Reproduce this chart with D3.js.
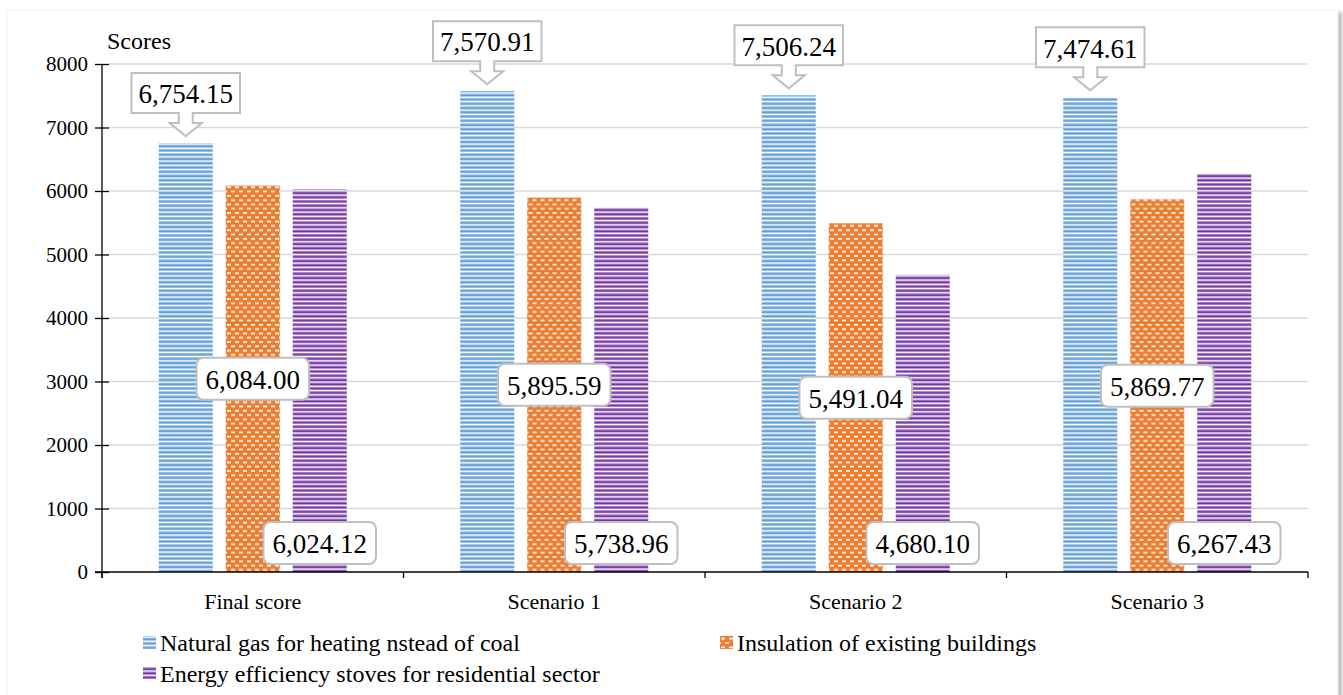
<!DOCTYPE html>
<html>
<head>
<meta charset="utf-8">
<script src="https://cdn.jsdelivr.net/npm/d3@7"></script>
</head>
<body style="margin:0;background:#fff">
<svg id="chart" width="1343" height="695" style="display:block"></svg>
<script>
// Scenario scores for the three air-quality measures
const categories = ["Final score", "Scenario 1", "Scenario 2", "Scenario 3"];
const seriesNames = [
  "Natural gas for heating nstead of coal",
  "Insulation of existing buildings",
  "Energy efficiency stoves for residential sector"
];
const naturalGas = [6754.15, 7570.91, 7506.24, 7474.61];
const insulation = [6084.00, 5895.59, 5491.04, 5869.77];
const stoves     = [6024.12, 5738.96, 4680.10, 6267.43];
const yTicks = [0, 1000, 2000, 3000, 4000, 5000, 6000, 7000, 8000];
const yTitle = "Scores";

const series = [naturalGas, insulation, stoves];
const fmt = d3.format(",.2f");
const SERIF = '"Liberation Serif", "Times New Roman", serif';

const svg = d3.select("#chart");
const plot = { left: 102, right: 1308, top: 64, bottom: 572 };

// serif text helper
function serif(sel, size) {
  return sel.style("font-family", SERIF).style("font-size", size + "px").attr("fill", "#000");
}
// approximate advance width of a Times-metric number string (digits .5em, punctuation .25em)
function numWidth(s, size) {
  let w = 0;
  for (const ch of s) w += (ch === "," || ch === ".") ? 0.25 : 0.5;
  return w * size;
}

// page card with a soft shadow on the right edge
const defs = svg.append("defs");
const blur = defs.append("filter").attr("id", "shadow").attr("x", "-50%").attr("width", "200%");
blur.append("feGaussianBlur").attr("stdDeviation", 1.5);
svg.append("rect").attr("x", 1337).attr("y", 12).attr("width", 5).attr("height", 690)
  .attr("fill", "#bdbdbd").attr("filter", "url(#shadow)");
svg.append("rect").attr("x", 7).attr("y", 10).attr("width", 1331).attr("height", 700)
  .attr("fill", "#fff").attr("stroke", "#f0f0f0").attr("stroke-width", 1);

// fill patterns
const pBlue = defs.append("pattern").attr("id", "pBlue").attr("patternUnits", "userSpaceOnUse")
  .attr("width", 8).attr("height", 4.25);
pBlue.append("rect").attr("width", 8).attr("height", 4.25).attr("fill", "#fff");
pBlue.append("rect").attr("y", 0).attr("width", 8).attr("height", 1).attr("fill", "#a9c9ea");
pBlue.append("rect").attr("y", 1).attr("width", 8).attr("height", 2).attr("fill", "#5b9bd5");

const pPurple = defs.append("pattern").attr("id", "pPurple").attr("patternUnits", "userSpaceOnUse")
  .attr("width", 8).attr("height", 4.25);
pPurple.append("rect").attr("width", 8).attr("height", 4.25).attr("fill", "#fff");
pPurple.append("rect").attr("y", 0).attr("width", 8).attr("height", 1).attr("fill", "#b48fd0");
pPurple.append("rect").attr("y", 1).attr("width", 8).attr("height", 2).attr("fill", "#7030a0");

const pOrange = defs.append("pattern").attr("id", "pOrange").attr("patternUnits", "userSpaceOnUse")
  .attr("width", 8).attr("height", 8.6);
pOrange.append("rect").attr("width", 8).attr("height", 8.6).attr("fill", "#ed7d31");
pOrange.append("rect").attr("x", 1).attr("y", 1.5).attr("width", 4).attr("height", 1.6).attr("fill", "#fff");
pOrange.append("rect").attr("x", 5).attr("y", 5.8).attr("width", 4).attr("height", 1.6).attr("fill", "#fff");
pOrange.append("rect").attr("x", -3).attr("y", 5.8).attr("width", 4).attr("height", 1.6).attr("fill", "#fff");

const fills = ["url(#pBlue)", "url(#pOrange)", "url(#pPurple)"];

// scales
const x0 = d3.scaleBand().domain(categories).range([plot.left, plot.right]).padding(0);
const x1 = d3.scaleBand().domain(d3.range(series.length)).range([0, x0.bandwidth()])
  .paddingInner(13 / 67).paddingOuter(56.75 / 67);
const y = d3.scaleLinear().domain([0, 8000]).range([plot.bottom, plot.top]);

// gridlines
svg.append("g").selectAll("line").data(yTicks.filter(t => t > 0)).join("line")
  .attr("x1", plot.left + 6).attr("x2", plot.right)
  .attr("y1", d => y(d)).attr("y2", d => y(d))
  .attr("stroke", "#d9d9d9").attr("stroke-width", 1.5);

// bars
const groups = svg.append("g").selectAll("g").data(categories).join("g")
  .attr("transform", d => `translate(${x0(d)},0)`);
groups.selectAll("rect").data((c, ci) => series.map((s, si) => ({ si, v: s[ci] }))).join("rect")
  .attr("x", d => x1(d.si)).attr("width", x1.bandwidth())
  .attr("y", d => y(d.v)).attr("height", d => y(0) - y(d.v))
  .attr("fill", d => fills[d.si]);

// y axis line and tick marks (labels are drawn in the text layer)
const yAxis = svg.append("g").attr("transform", `translate(${plot.left},0)`)
  .call(d3.axisLeft(y).tickValues(yTicks).tickFormat("").tickSize(7));
yAxis.select(".domain").attr("stroke", "#000").attr("stroke-width", 1.3)
  .attr("d", `M0,${plot.top}V${plot.bottom + 6}`);
yAxis.selectAll(".tick line").attr("x1", -7).attr("x2", 7).attr("stroke", "#000").attr("stroke-width", 1.3);
yAxis.selectAll(".tick text").remove();

// x axis line and category boundary ticks
const bounds = categories.map(c => x0(c)).concat([plot.right]);
const xAxis = svg.append("g");
xAxis.append("line").attr("x1", plot.left - 7).attr("x2", plot.right)
  .attr("y1", plot.bottom).attr("y2", plot.bottom)
  .attr("stroke", "#000").attr("stroke-width", 1.3);
xAxis.selectAll("line.tk").data(bounds).join("line").attr("class", "tk")
  .attr("x1", d => d).attr("x2", d => d).attr("y1", plot.bottom).attr("y2", plot.bottom + 6)
  .attr("stroke", "#000").attr("stroke-width", 1.3);

// data label frames
const labelFont = 27;
const frames = svg.append("g");
const labelData = [];
categories.forEach((c, ci) => {
  // natural gas: arrow callout above the bar
  {
    const v = naturalGas[ci], txt = fmt(v);
    const cx = x0(c) + x1(0) + x1.bandwidth() / 2;
    const tip = y(v) - 7;
    const headH = 13, shaftH = 10, boxH = 40;
    const boxBottom = tip - headH - shaftH;
    const w = numWidth(txt, labelFont) + 14;
    const l = cx - w / 2, r = cx + w / 2, top = boxBottom - boxH;
    const sw = 7, hw = 16;
    frames.append("path")
      .attr("d", `M${l},${top}H${r}V${boxBottom}H${cx + sw}V${boxBottom + shaftH}H${cx + hw}L${cx},${tip}L${cx - hw},${boxBottom + shaftH}H${cx - sw}V${boxBottom}H${l}Z`)
      .attr("fill", "#fff").attr("stroke", "#bfbfbf").attr("stroke-width", 2);
    labelData.push({ txt, x: cx, cy: boxBottom - boxH / 2 + 1 });
  }
  // insulation: rounded box at the bar's centre; stoves: rounded box at the bar's base
  [[insulation, 1, v => y(v / 2)], [stoves, 2, () => y(0) - 29]].forEach(([arr, si, cyOf]) => {
    const v = arr[ci], txt = fmt(v);
    const cx = x0(c) + x1(si) + x1.bandwidth() / 2;
    const cy = cyOf(v);
    const w = numWidth(txt, labelFont) + 18;
    frames.append("rect").attr("x", cx - w / 2).attr("y", cy - 21).attr("width", w).attr("height", 42)
      .attr("rx", 7).attr("fill", "#fff").attr("stroke", "#bfbfbf").attr("stroke-width", 2);
    labelData.push({ txt, x: cx, cy: cy + 1 });
  });
});

// legend swatches
const legendItems = [
  { name: seriesNames[0], fill: fills[0], x: 143, y: 642 },
  { name: seriesNames[1], fill: fills[1], x: 720, y: 642 },
  { name: seriesNames[2], fill: fills[2], x: 143, y: 673 }
];
svg.append("g").selectAll("rect").data(legendItems).join("rect")
  .attr("x", d => d.x).attr("y", d => d.y - 6).attr("width", 13).attr("height", 13)
  .attr("fill", d => d.fill);

// all text sits in one flat layer
const textLayer = svg.append("g");
serif(textLayer.selectAll("text.ytick").data(yTicks).join("text").attr("class", "ytick")
  .attr("x", plot.left - 14).attr("y", d => y(d) + 7).attr("text-anchor", "end"), 21)
  .text(d3.format("d"));
serif(textLayer.append("text").attr("x", 107).attr("y", 49), 24).text(yTitle);
serif(textLayer.selectAll("text.cat").data(categories).join("text").attr("class", "cat")
  .attr("x", d => x0(d) + x0.bandwidth() / 2).attr("y", plot.bottom + 37)
  .attr("text-anchor", "middle"), 22).text(d => d);
serif(textLayer.selectAll("text.lbl").data(labelData).join("text").attr("class", "lbl")
  .attr("x", d => d.x).attr("y", d => d.cy + labelFont * 0.34)
  .attr("text-anchor", "middle"), labelFont).text(d => d.txt);
serif(textLayer.selectAll("text.leg").data(legendItems).join("text").attr("class", "leg")
  .attr("x", d => d.x + 17).attr("y", d => d.y + 9), 24).text(d => d.name);
</script>
</body>
</html>
